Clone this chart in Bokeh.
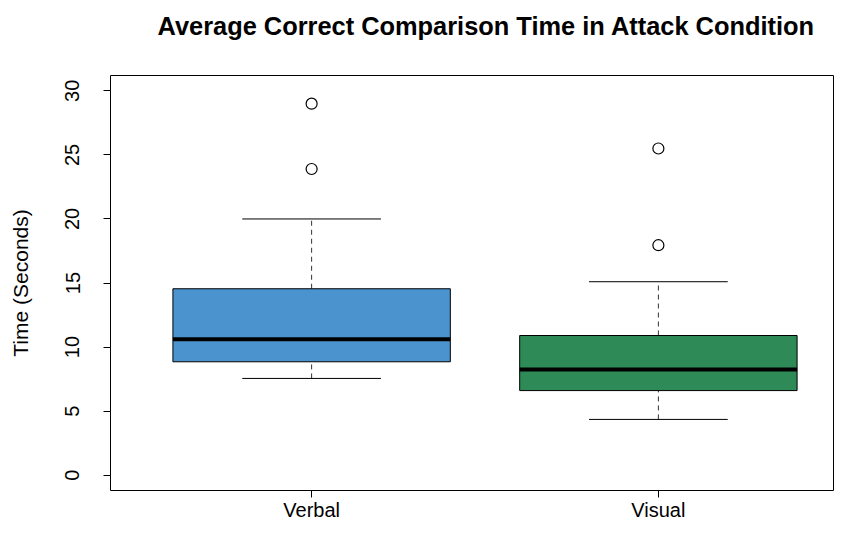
from bokeh.plotting import figure
from bokeh.models import ColumnDataSource, FixedTicker, Range1d, Title
from bokeh.embed import file_html
from bokeh.resources import INLINE

# ---- data ----
groups = ["Verbal", "Visual"]
lower_whisker = [7.55, 4.35]
q1 = [8.85, 6.6]
median = [10.6, 8.25]
q3 = [14.55, 10.9]
upper_whisker = [20.0, 15.1]
outliers = [[29.0, 23.9], [25.5, 17.95]]
fill_colors = ["#4A93CE", "#2E8A57"]
y_ticks = [0, 5, 10, 15, 20, 25, 30]
title_text = "Average Correct Comparison Time in Attack Condition"

xs = [i + 1 for i in range(len(groups))]
FONT = "Liberation Sans"

p = figure(width=834, height=523, output_backend="svg", toolbar_location=None,
           x_range=Range1d(0.42, 2.505), y_range=Range1d(-1.2, 31.2),
           min_border_left=110, min_border_right=1, min_border_top=75,
           min_border_bottom=31)

# spacer (closest to frame), then the real title above it
spacer = Title(text=" ", text_font_size="1px", standoff=33)
p.add_layout(spacer, "above")
main_title = Title(text=title_text, align="left", offset=47, standoff=0,
                   text_font=FONT, text_font_size="25.4px", text_font_style="bold",
                   text_color="black")
p.add_layout(main_title, "above")

src = ColumnDataSource(dict(x=xs, lo=lower_whisker, q1=q1, med=median, q3=q3,
                            hi=upper_whisker, color=fill_colors,
                            cl=[x - 0.2 for x in xs], cr=[x + 0.2 for x in xs],
                            bl=[x - 0.4 for x in xs], br=[x + 0.4 for x in xs]))

# whiskers (dashed)
p.segment(x0="x", y0="q3", x1="x", y1="hi", source=src, line_color="#333333",
          line_width=1, line_dash="5 4")
p.segment(x0="x", y0="lo", x1="x", y1="q1", source=src, line_color="#333333",
          line_width=1, line_dash="5 4")
# caps
p.segment(x0="cl", y0="hi", x1="cr", y1="hi", source=src, line_color="black", line_width=1)
p.segment(x0="cl", y0="lo", x1="cr", y1="lo", source=src, line_color="black", line_width=1)
# boxes
p.vbar(x="x", width=0.8, bottom="q1", top="q3", source=src, fill_color="color",
       line_color="black", line_width=1)
# medians
p.segment(x0="bl", y0="med", x1="br", y1="med", source=src, line_color="black", line_width=4)

# outliers
ox, oy = [], []
for x, vals in zip(xs, outliers):
    for v in vals:
        ox.append(x)
        oy.append(v)
p.scatter(ox, oy, marker="circle", size=11, fill_color=None, line_color="black", line_width=1.2)

# axes
p.xgrid.visible = False
p.ygrid.visible = False
p.outline_line_color = "black"
p.outline_line_width = 1
p.outline_line_alpha = 1

xa = p.xaxis[0]
xa.ticker = FixedTicker(ticks=xs)
xa.major_label_overrides = {x: g for x, g in zip(xs, groups)}
xa.axis_line_color = None
xa.minor_tick_line_color = None
xa.major_tick_out = 7
xa.major_tick_in = 0
xa.major_tick_line_color = "black"
xa.major_label_standoff = 1
xa.major_label_text_font = FONT
xa.major_label_text_font_size = "20px"
xa.major_label_text_color = "black"

ya = p.yaxis[0]
ya.ticker = FixedTicker(ticks=y_ticks)
ya.axis_line_color = None
ya.minor_tick_line_color = None
ya.major_tick_out = 7
ya.major_tick_in = 0
ya.major_tick_line_color = "black"
ya.major_label_orientation = "vertical"
ya.major_label_standoff = 24
ya.major_label_text_font = FONT
ya.major_label_text_font_size = "20px"
ya.major_label_text_color = "black"
ya.axis_label = "Time (Seconds)"
ya.axis_label_text_font = FONT
ya.axis_label_text_font_size = "21px"
ya.axis_label_text_font_style = "normal"
ya.axis_label_text_color = "black"
ya.axis_label_standoff = 31

open("out.html", "w").write(file_html(p, INLINE))
